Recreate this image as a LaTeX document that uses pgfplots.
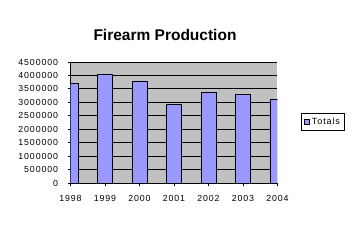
\documentclass[border=0pt]{standalone}
\usepackage{fontspec}
\setmainfont{Liberation Sans}
\newfontfamily\tickfont[LetterSpace=10]{Liberation Sans}
\usepackage{pgfplots}
\pgfplotsset{compat=1.18}
\definecolor{plotbg}{RGB}{192,192,192}
\definecolor{barcol}{RGB}{153,153,255}
\begin{document}
\begin{tikzpicture}[x=1pt,y=1pt]
\useasboundingbox[fill=white] (0,0) rectangle (358,241);
\node[font=\bfseries\fontsize{15.5}{18}\selectfont, anchor=base] at (165,200) {Firearm Production};
\begin{axis}[
  at={(70.5pt,58pt)}, anchor=south west,
  scale only axis, width=207pt, height=121pt,
  xmin=1998, xmax=2004, ymin=0, ymax=4500000,
  axis background/.style={fill=plotbg},
  axis x line*=bottom, axis y line*=left,
  axis line style={black, line width=0.8pt},
  ymajorgrids, grid style={black, line width=0.8pt},
  xtick={1998,1999,...,2004},
  ytick={0,500000,...,4500000},
  tick align=outside, major tick length=3pt,
  tick style={black, line width=0.8pt},
  scaled y ticks=false,
  ticklabel style={font=\tickfont\fontsize{8.8}{10}\selectfont},
  /pgf/number format/assume math mode=true,
  yticklabel style={/pgf/number format/fixed, /pgf/number format/1000 sep={}, xshift=-6pt},
  xticklabel style={/pgf/number format/1000 sep={}, yshift=-6pt},
  ybar, bar width=0.44,
  legend style={at={(1.113,0.507)}, anchor=west, draw=black, line width=0.8pt,
    font=\tickfont\fontsize{9}{10}\selectfont, inner sep=2.5pt},
  legend image code/.code={\draw[#1, line width=0.6pt] (0pt,-2.8pt) rectangle (5.6pt,2.8pt);},
  clip=true,
]
\addplot[fill=barcol, draw=black, line width=0.8pt] coordinates {
  (1998,3713590) (1999,4047747) (2000,3793541) (2001,2932655)
  (2002,3366895) (2003,3308404) (2004,3099025)
};
\addlegendentry{Totals}
\end{axis}
\end{tikzpicture}
\end{document}
